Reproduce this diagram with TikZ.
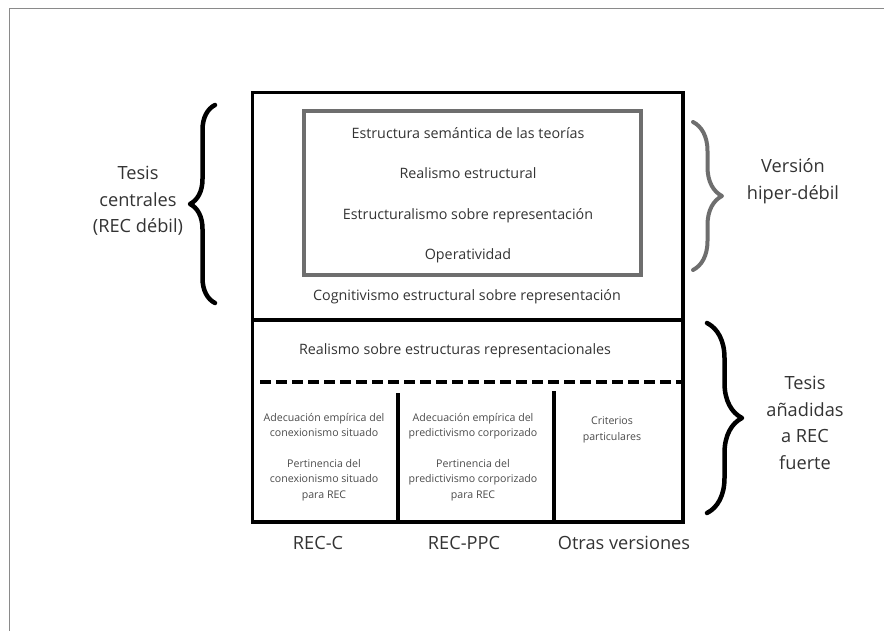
\documentclass[tikz,border=0pt]{standalone}
\usepackage{fontspec}
\setmainfont{Open Sans}
\usetikzlibrary{decorations.pathreplacing}
\definecolor{txt}{HTML}{333333}
\definecolor{smalltxt}{HTML}{4A4A4A}
\definecolor{framecol}{HTML}{8A8A8A}
\definecolor{graybox}{HTML}{6E6E6E}
\begin{document}
\begin{tikzpicture}[x=1pt,y=-1pt,
  lbl/.style={text=txt, inner sep=0pt, font=\fontsize{14.3}{17}\selectfont},
  small/.style={text=smalltxt, inner sep=0pt, align=center, font=\fontsize{10.6}{15.5}\selectfont},
  big/.style={text=txt, inner sep=0pt, align=center, font=\fontsize{18.2}{26.5}\selectfont},
  brc/.style={decorate, decoration={brace, amplitude=#1}, line cap=round, line join=round},
  thick line/.style={line width=3.2pt},
]
\useasboundingbox (0,0) rectangle (884,631);
% page frame
\coordinate (fbl) at (9.5,631);
\coordinate (ftl) at (9.5,8.5);
\coordinate (ftr) at (884,8.5);
\draw[framecol, line width=1.5pt] (fbl) -- (ftl) -- (ftr);
% main box
\node[draw, thick line, minimum width=430.5pt, minimum height=429.5pt, inner sep=0pt] (main) at (467.75,307.25) {};
\coordinate (divL) at (252.5,320);
\coordinate (divR) at (683,320);
\draw[thick line] (divL) -- (divR);
\coordinate (dashL) at (260,382);
\coordinate (dashR) at (683,382);
\draw[line width=3.5pt, dash pattern=on 10.5pt off 5.5pt] (dashL) -- (dashR);
\coordinate (v1t) at (398,393);
\coordinate (v1b) at (398,522);
\coordinate (v2t) at (554,391);
\coordinate (v2b) at (554,522);
\draw[thick line] (v1t) -- (v1b);
\draw[thick line] (v2t) -- (v2b);
% gray inner box
\node[draw=graybox, line width=4.5pt, minimum width=337pt, minimum height=164pt, inner sep=0pt] (gbox) at (472.5,193) {};
% texts
\node[lbl] (t1) at (468,133) {Estructura semántica de las teorías};
\node[lbl] (t2) at (468,173) {Realismo estructural};
\node[lbl] (t3) at (468,216) {Estructuralismo sobre representación};
\node[lbl] (t4) at (468,256) {Operatividad};
\node[lbl] (t5) at (467,297) {Cognitivismo estructural sobre representación};
\node[lbl] (t6) at (455,351) {Realismo sobre estructuras representacionales};
\node[small, anchor=north] (c1a) at (324,413) {Adecuación empírica del\\conexionismo situado};
\node[small, anchor=north] (c1b) at (324,459) {Pertinencia del\\conexionismo situado\\para REC};
\node[small, anchor=north] (c2a) at (473,413) {Adecuación empírica del\\predictivismo corporizado};
\node[small, anchor=north] (c2b) at (473,459) {Pertinencia del\\predictivismo corporizado\\para REC};
\node[small, anchor=north] (c3a) at (612,417) {Criterios\\particulares};
\node[big] (l1) at (318,543) {REC-C};
\node[big] (l2) at (464,543) {REC-PPC};
\node[big] (l3) at (624,543) {Otras versiones};
% braces
\coordinate (lbB) at (215,303);
\coordinate (lbT) at (215,105);
\draw[brc=25, line width=4.5pt] (lbB) -- (lbT);
\node[big] (tc) at (138,201) {Tesis\\centrales\\(REC débil)};
\coordinate (gbT) at (693,122);
\coordinate (gbB) at (693,270);
\draw[brc=29, line width=4pt, graybox] (gbT) -- (gbB);
\node[big] (vh) at (793,181) {Versión\\hiper-débil};
\coordinate (rbT) at (707,323);
\coordinate (rbB) at (707,513);
\draw[brc=35, line width=4.5pt] (rbT) -- (rbB);
\node[big] (ta) at (805,423) {Tesis\\añadidas\\a REC\\fuerte};
\end{tikzpicture}
\end{document}
